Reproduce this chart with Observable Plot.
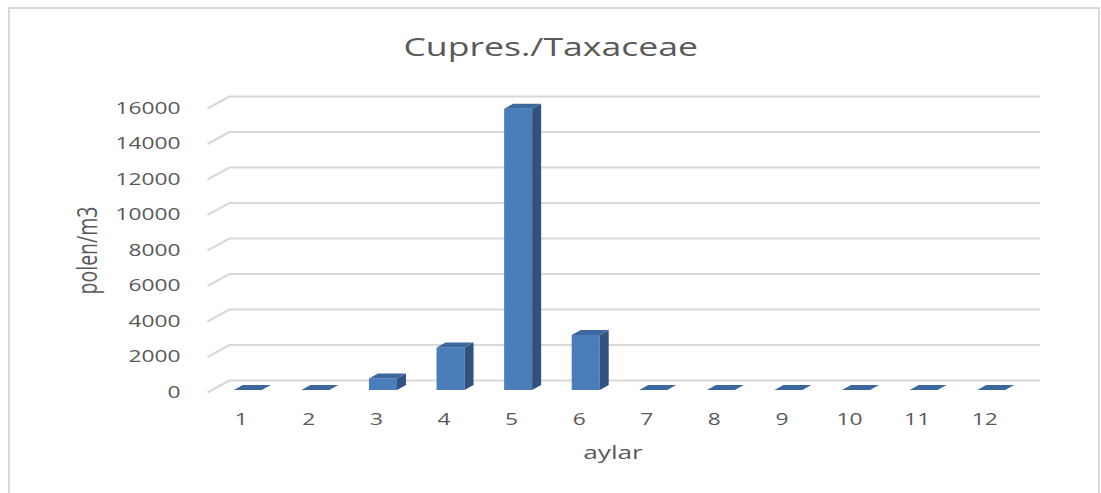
<!DOCTYPE html>
<html>
<head>
<meta charset="utf-8">
<script src="https://cdn.jsdelivr.net/npm/d3@7"></script>
<script src="https://cdn.jsdelivr.net/npm/@observablehq/plot@0.6"></script>
<style>
  html, body { margin: 0; padding: 0; background: #fff; overflow: hidden; }
  body { width: 1101px; height: 493px; position: relative; font-family: "Open Sans", sans-serif; }
  #box { position: absolute; left: 8px; top: 7px; width: 1088px; height: 490px; border: 2px solid #d9d9d9; box-sizing: content-box; }
  #title { position: absolute; left: 0; top: 33px; width: 1101px; text-align: center; line-height: 26px; font-size: 25.8px; color: #595959; }
  #title span { display: inline-block; transform: scaleX(1.38); transform-origin: center; }
  #chart { position: absolute; left: 0; top: 70px; }
</style>
</head>
<body>
<div id="box"></div>
<div id="title"><span>Cupres./Taxaceae</span></div>
<div id="chart"></div>
<script>
// ---- data ----
const months = [1, 2, 3, 4, 5, 6, 7, 8, 9, 10, 11, 12];
const values = [0, 0, 650, 2400, 15850, 3100, 0, 0, 0, 0, 0, 0];
const yTicks = [0, 2000, 4000, 6000, 8000, 10000, 12000, 14000, 16000];
const xLabel = "aylar";
const yLabel = "polen/m3";

// ---- layout / 3D look constants ----
const W = 1101, H = 423, ML = 207, MR = 83, MT = 38, MB = 101;
const kx = (W - ML - MR) / 12;           // px per x unit
const ky = (H - MT - MB) / 16000;        // px per y unit
const hw = 14 / kx;                      // half bar width (x units)
const bdx = 9 / kx, bdy = 5 / ky;        // bar depth
const wdx = 22 / kx, wdy = 12 / ky;      // wall depth
const grid = "#d9d9d9";

const bars = months.map((m, i) => ({m, v: values[i]}));
const sidePts = bars.flatMap(d => [
  {m: d.m, x: d.m + hw, y1: 0, y2: d.v},
  {m: d.m, x: d.m + hw + bdx, y1: bdy, y2: d.v + bdy}
]);
const topPts = bars.flatMap(d => [
  {m: d.m, y: d.v, x1: d.m - hw, x2: d.m + hw},
  {m: d.m, y: d.v + bdy, x1: d.m - hw + bdx, x2: d.m + hw + bdx}
]);

const chart = Plot.plot({
  width: W, height: H,
  marginLeft: ML, marginRight: MR, marginTop: MT, marginBottom: MB,
  style: {fontFamily: "Open Sans", fontSize: "16.5px", color: "#595959", background: "transparent", overflow: "visible"},
  x: {type: "linear", domain: [0.5, 12.5], ticks: months, tickFormat: d => String(d)},
  y: {type: "linear", domain: [0, 16000], nice: false, ticks: yTicks, tickFormat: d => String(d)},
  marks: [
    Plot.ruleY(yTicks, {y: d => d, x1: 0.5, x2: 12.5, dx: 22, dy: -12, stroke: grid, strokeWidth: 2}),
    Plot.link(yTicks, {x1: 0.5, y1: d => d, x2: 0.5 + wdx, y2: d => d + wdy, stroke: grid, strokeWidth: 2}),
    Plot.axisY({ticks: yTicks, tickSize: 0, tickPadding: 27, tickFormat: d => String(d), label: null}),
    Plot.axisX({ticks: months, tickSize: 0, tickPadding: 21, tickFormat: d => String(d), label: null}),
    Plot.rect(bars, {x1: d => d.m - hw, x2: d => d.m + hw, y1: 0, y2: "v", dx: 7, dy: -2, fill: "#4a7ebb"}),
    Plot.areaY(sidePts, {x: "x", y1: "y1", y2: "y2", z: "m", dx: 7, dy: -2, fill: "#30527e"}),
    Plot.areaX(topPts, {y: "y", x1: "x1", x2: "x2", z: "m", dx: 7, dy: -2, fill: "#3c68a0"}),
    Plot.text([yLabel], {frameAnchor: "left", text: d => d, dx: -119, rotate: -90, textAnchor: "middle", lineAnchor: "middle", fontSize: 19.5, fill: "#595959"}),
    Plot.text([xLabel], {frameAnchor: "bottom", text: d => d, dy: 60, textAnchor: "middle", lineAnchor: "middle", fontSize: 19, fill: "#595959"})
  ]
});

// stretch glyphs horizontally to mimic the wide lettering of the original
const SX = 1.38;
chart.querySelectorAll("text").forEach(t => {
  let T = t.getAttribute("transform") || "";
  if (/rotate\(/.test(T)) {
    T = T.replace(/rotate\(/, `scale(${SX},1) rotate(`);
  } else {
    const xa = t.getAttribute("x");
    const x = xa != null && !isNaN(+xa) ? +xa : 0;
    if (xa != null && !isNaN(+xa)) t.removeAttribute("x");
    T = `${T} translate(${x},0) scale(${SX},1)`;
  }
  t.setAttribute("transform", T.trim());
});
document.getElementById("chart").appendChild(chart);
</script>
</body>
</html>
